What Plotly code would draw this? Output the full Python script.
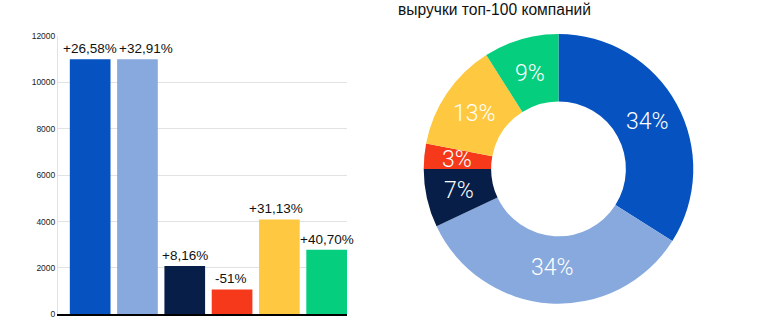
import math
import plotly.graph_objects as go

# Data
bar_categories = ["A", "B", "C", "D", "E", "F"]
bar_values = [11000, 11000, 2080, 1075, 4090, 2780]
bar_labels = ["+26,58%", "+32,91%", "+8,16%", "-51%", "+31,13%", "+40,70%"]
colors = ["#0552C0", "#87A9DD", "#071E48", "#F5391A", "#FEC940", "#05CF7F"]

pie_values = [34, 34, 7, 3, 13, 9]
pie_labels = ["34%", "34%", "7%", "3%", "13%", "9%"]
pie_names = ["A", "B", "C", "D", "E", "F"]

title_text = "выручки топ-100 компаний"
y_ticks = [0, 2000, 4000, 6000, 8000, 10000, 12000]

# label style offsets (pixels)
bar_label_shift = [0, 9, 0, -1, -3, 0]

W, H = 770, 330

# pie geometry (pixels)
PCX, PCY, PR = 558.5, 169.0, 139.0
HOLE = 0.5

fig = go.Figure()

fig.add_trace(go.Bar(
    x=list(range(len(bar_categories))),
    y=bar_values,
    marker=dict(color=colors, line=dict(width=0)),
    hoverinfo="skip",
    showlegend=False,
))

fig.add_trace(go.Pie(
    values=pie_values,
    labels=pie_names,
    textinfo="none",
    marker=dict(colors=colors, line=dict(width=0)),
    hole=HOLE,
    sort=False,
    direction="clockwise",
    rotation=0,
    showlegend=False,
    hoverinfo="skip",
    domain=dict(x=[(PCX - PR) / W, (PCX + PR) / W],
                y=[(H - PCY - PR) / H, (H - PCY + PR) / H]),
))

annotations = []

# bar value labels, anchored to bar tops via the axes
for i, (v, lab) in enumerate(zip(bar_values, bar_labels)):
    annotations.append(dict(
        text=lab, xref="x", yref="y", x=i, y=v,
        xanchor="center", yanchor="bottom", yshift=1,
        xshift=bar_label_shift[i],
        showarrow=False,
        font=dict(family="Liberation Sans", size=13.5, color="#111111"),
    ))

# pie labels placed at the middle of each slice (derived from the data)
total = sum(pie_values)
cum = 0.0
r_outer = 136.0
r_mid = r_outer * (1 + HOLE) / 2
for v, lab in zip(pie_values, pie_labels):
    mid = (cum + v / 2) / total * 2 * math.pi
    cum += v
    px = PCX + r_mid * math.sin(mid)
    py = PCY - r_mid * math.cos(mid)
    annotations.append(dict(
        text=lab, xref="paper", yref="paper",
        x=px / W, y=(H - py) / H, xanchor="center", yanchor="middle",
        showarrow=False,
        font=dict(family="Roboto", size=23, color="white", weight=300),
    ))

annotations.append(dict(
    text=title_text,
    xref="paper", yref="paper",
    x=396 / W, y=1.0 + 6 / H,
    xanchor="left", yanchor="top",
    showarrow=False,
    font=dict(family="Liberation Sans", size=15.6, color="#111111"),
))

fig.update_layout(
    width=W, height=H,
    margin=dict(l=0, r=0, t=0, b=0),
    paper_bgcolor="white",
    plot_bgcolor="white",
    bargap=0.14,
    xaxis=dict(
        domain=[58 / W, 347 / W],
        range=[-0.68, 5.43],
        showticklabels=False,
        showgrid=False,
        zeroline=False,
        showline=True,
        linecolor="black",
        linewidth=2,
        ticks="",
    ),
    yaxis=dict(
        domain=[(H - 319) / H, (H - 32) / H],
        range=[0, 12000],
        tickvals=y_ticks,
        ticktext=[str(v) for v in y_ticks],
        tickfont=dict(family="Liberation Sans", size=8.5, color="#222222"),
        showgrid=True,
        gridcolor="#E2E2E2",
        gridwidth=1,
        zeroline=False,
        showline=True,
        linecolor="#E2E2E2",
        linewidth=1,
        ticks="",
    ),
    annotations=annotations,
)

fig.write_html("out.html")
